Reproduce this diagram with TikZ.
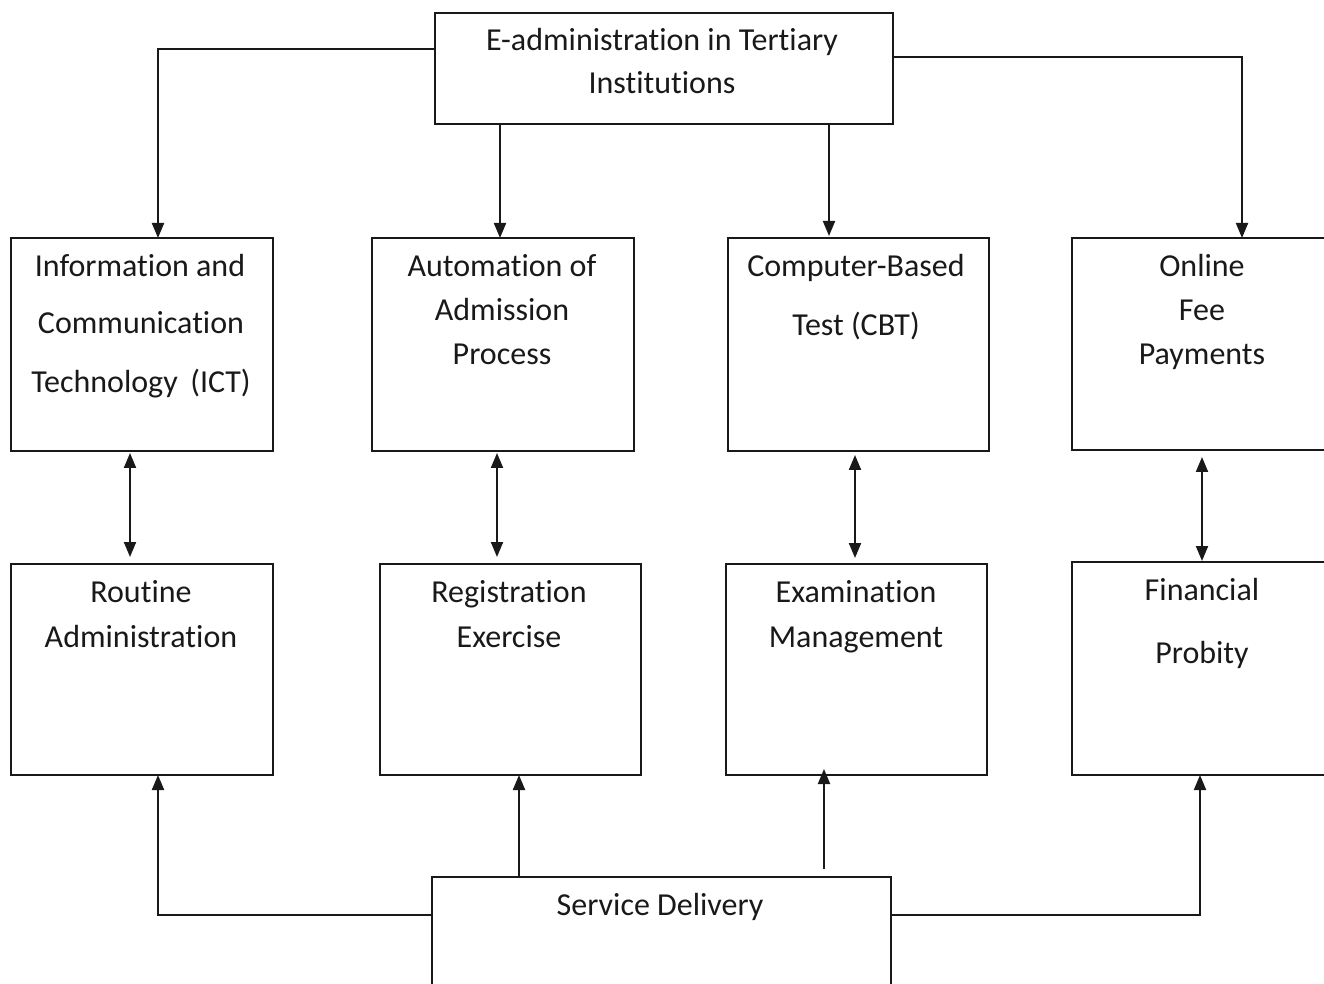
\documentclass[tikz,border=0pt]{standalone}
\usepackage{fontspec}
\setmainfont{Carlito}[Ligatures=NoCommon]
\usetikzlibrary{arrows.meta}
\begin{document}
\begin{tikzpicture}[x=0.5pt,y=-0.5pt,
  box/.style={draw=black!90, line width=1pt, rectangle, inner sep=0pt, outer sep=0pt},
  txt/.style={anchor=base, inner sep=0pt, font=\fontsize{16}{19}\selectfont, text=black!90},
  conn/.style={draw=black!90, line width=1pt, -{Triangle[length=7.5pt,width=6pt]}},
  dbl/.style={draw=black!90, line width=1pt, {Triangle[length=7.5pt,width=6pt]}-{Triangle[length=7.5pt,width=6pt]}}]
\useasboundingbox (0,0) rectangle (1324,984);
\newcommand{\bx}[5]{\node[box, minimum width={(#4-#2)*0.5pt}, minimum height={(#5-#3)*0.5pt}] (#1) at ({(#2+#4)/2},{(#3+#5)/2}) {};}
% boxes
\bx{top}{435}{13}{893}{124}
\bx{ict}{11}{238}{273}{451}
\bx{auto}{372}{238}{634}{451}
\bx{cbt}{728}{238}{989}{451}
\bx{online}{1072}{238}{1334}{450}
\bx{rout}{11}{564}{273}{775}
\bx{reg}{380}{564}{641}{775}
\bx{exam}{726}{564}{987}{775}
\bx{fin}{1072}{562}{1334}{775}
\bx{serv}{432}{877}{891}{1010}
% texts
\node[txt] (t1) at (662,51) {E-administration in Tertiary};
\node[txt] (t2) at (662,94) {Institutions};
\node[txt] (i1) at (140,277) {Information and};
\node[txt] (i2) at (141,334) {Communication};
\node[txt] (i3) at (141,393) {Technology\, (ICT)};
\node[txt] (a1) at (502,277) {Automation of};
\node[txt] (a2) at (502,321) {Admission};
\node[txt] (a3) at (502,365) {Process};
\node[txt] (c1) at (856,277) {Computer-Based};
\node[txt] (c2) at (856,336) {Test (CBT)};
\node[txt] (o1) at (1202,277) {Online};
\node[txt] (o2) at (1202,321) {Fee};
\node[txt] (o3) at (1202,365) {Payments};
\node[txt] (r1) at (141,602) {Routine};
\node[txt] (r2) at (141,647) {Administration};
\node[txt] (g1) at (509,602) {Registration};
\node[txt] (g2) at (509,647) {Exercise};
\node[txt] (e1) at (856,602) {Examination};
\node[txt] (e2) at (856,647) {Management};
\node[txt] (f1) at (1202,600) {Financial};
\node[txt] (f2) at (1202,663) {Probity};
\node[txt] (s1) at (660,915) {Service Delivery};
% helper coordinates
\coordinate (lt) at (158,49);
\coordinate (rt) at (1242,57);
\coordinate (x500) at (500,0);
\coordinate (x829) at (829,0);
\coordinate (x130) at (130,0);
\coordinate (x497) at (497,0);
\coordinate (x855) at (855,0);
\coordinate (x1202) at (1202,0);
\coordinate (lb) at (158,915);
\coordinate (rb) at (1200,915);
\coordinate (x519) at (519,0);
\coordinate (x824) at (824,0);
% connectors
\draw[conn] (top.west |- lt) -| (lt |- ict.north);
\draw[conn] (top.east |- rt) -| (rt |- online.north);
\draw[conn] (x500 |- top.south) -- (x500 |- auto.north);
\draw[conn, shorten >=1pt] (x829 |- top.south) -- (x829 |- cbt.north);
\draw[dbl, shorten <=1pt, shorten >=3.5pt] (x130 |- ict.south) -- (x130 |- rout.north);
\draw[dbl, shorten <=1pt, shorten >=3.5pt] (x497 |- auto.south) -- (x497 |- reg.north);
\draw[dbl, shorten <=2pt, shorten >=3pt] (x855 |- cbt.south) -- (x855 |- exam.north);
\draw[dbl, shorten <=3.5pt, shorten >=0.5pt] (x1202 |- online.south) -- (x1202 |- fin.north);
\draw[conn] (serv.west |- lb) -| (lb |- rout.south);
\draw[conn] (serv.east |- rb) -| (rb |- fin.south);
\draw[conn] (x519 |- serv.north) -- (x519 |- reg.south);
\draw[conn, shorten <=4pt, shorten >=-3pt] (x824 |- serv.north) -- (x824 |- exam.south);
\end{tikzpicture}
\end{document}
